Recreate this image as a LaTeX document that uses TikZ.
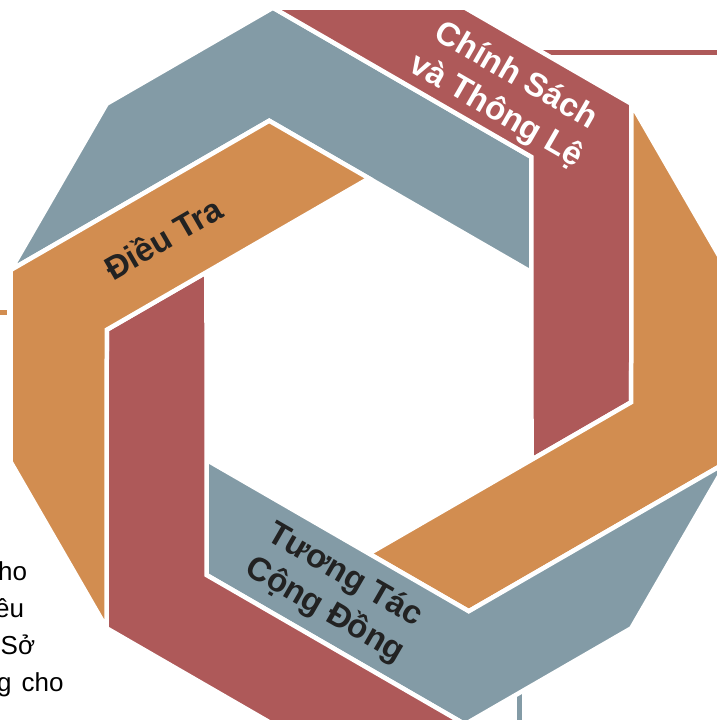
\documentclass[tikz,border=0pt]{standalone}
\usepackage{fontspec}
\setmainfont{Liberation Sans}
\usetikzlibrary{calc,positioning}
\definecolor{slate}{HTML}{839BA6}
\definecolor{brick}{HTML}{AE5959}
\definecolor{ochre}{HTML}{D28D50}
\definecolor{ink}{HTML}{222222}

\begin{document}
\begin{tikzpicture}[x=1pt, y=1pt,
  lbl/.style={align=center, inner sep=0pt, font=\fontsize{33}{40}\selectfont\bfseries},
  note/.style={anchor=base west, inner sep=0pt, text=black, font=\fontsize{26}{37}\selectfont}]
\tikzstyle{piece}=[draw=white, line width=4.5pt]
\tikzstyle{lead}=[line width=5pt]
\useasboundingbox (-369,-354) rectangle (348,366);
\clip (-369,-354) rectangle (348,366);
% leader lines, drawn first so the bands cover their inner ends
\coordinate (r0) at (150,313.5);
\coordinate (r1) at (360,313.5);
\coordinate (g0) at (150.5,-310);
\coordinate (g1) at (150.5,-370);
\coordinate (o0) at (-375,53);
\coordinate (o1) at (-362,53);
\draw[lead, brick] (r0) -- (r1);
\draw[lead, slate] (g0) -- (g1);
\draw[lead, ochre] (o0) -- (o1);
% six bent bands
\foreach \a/\c in {0/slate,-60/brick,-120/ochre,-180/slate,-240/brick,-300/ochre}{
  \filldraw[piece, fill=\c, rotate=\a] (105:370.9) -- (135:370.9) -- (165:370.9)
    -- (112.14:264.74) -- (30:187.64) -- (52.14:264.74) -- cycle;}
\node[lbl, text=white, rotate=-30] (policy) at (63.3:304.6) {Chính Sách\\và Thông Lệ};
\node[lbl, text=ink, rotate=30] (inquiry) at (148.1:242.5) {Điều Tra};
\node[lbl, text=ink, rotate=-30] (outreach) at (261.4:229.6) {Tương Tác\\Cộng Đồng};
% text cut off at the left edge
\node[note] (t1) at (-371,-214) {ho};
\node[note] (t2) at (-374,-251) {ều};
\node[note] (t3) at (-368.5,-288) {Sở};
\node[note] (t4) at (-372,-325) {g\hspace{10pt}cho};
\end{tikzpicture}
\end{document}
